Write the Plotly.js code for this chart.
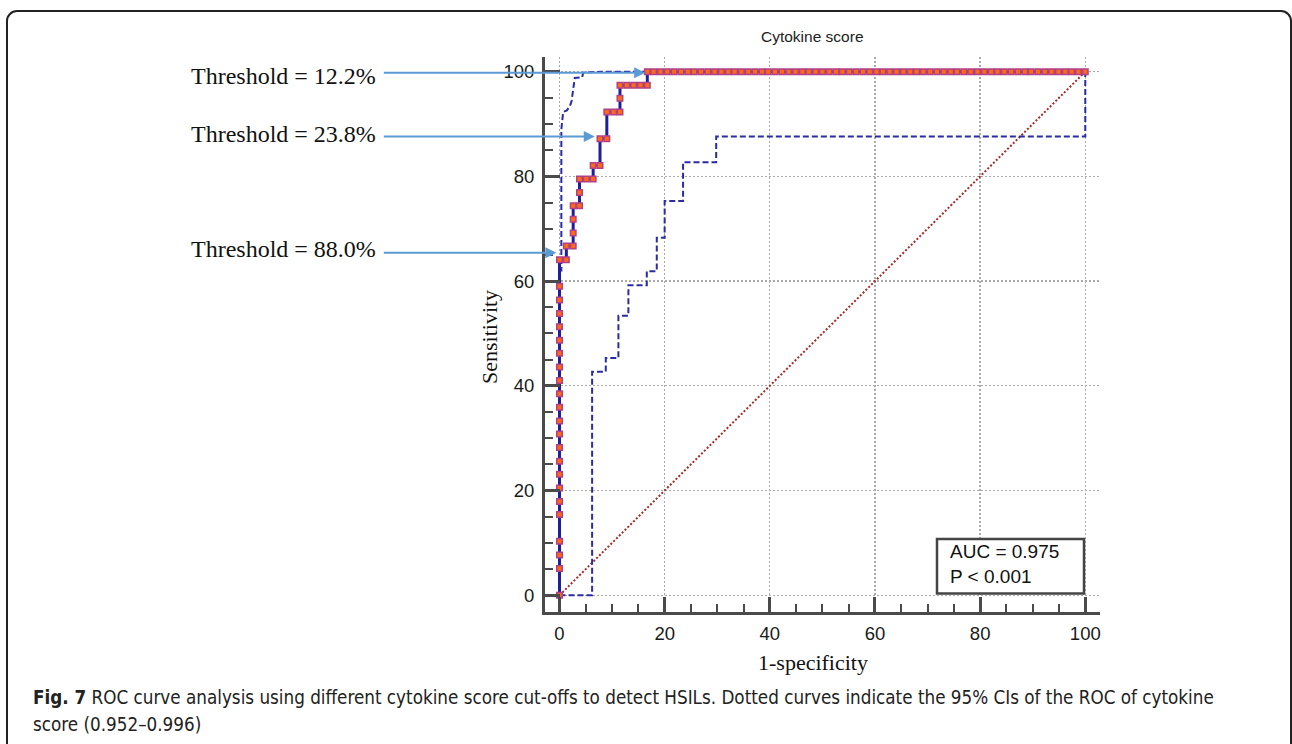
<!DOCTYPE html>
<html>
<head>
<meta charset="utf-8">
<script src="https://cdn.plot.ly/plotly-3.0.1.min.js"></script>
<style>
  html, body { margin: 0; padding: 0; background: #fff; overflow: hidden; }
  #chart { width: 1292px; height: 744px; position: absolute; left: 0; top: 0; }
  #frame { position: absolute; left: 6px; top: 10px; width: 1282px; height: 800px;
           border: 2px solid #222; border-radius: 11px; pointer-events: none; }
</style>
</head>
<body>
<div id="chart"></div>
<div id="frame"></div>
<script>
// ROC curve vertices (1-specificity %, sensitivity %)
const rocX = [0,0,0,0,0,0,0,0,0,0,0,0,0,0,0,0,0,0,0,0,0,0,0,
  1.3,1.3,2.6,2.6,2.6,2.6,3.8,3.8,3.8,5.1,6.4,6.4,7.7,7.7,9.0,9.0,10.3,11.5,11.5,11.5,12.8,14.1,15.4,16.7,16.7,
  17.9,19.2,20.5,21.8,23.1,24.4,25.6,26.9,28.2,29.5,30.8,32.1,33.3,34.6,35.9,37.2,38.5,39.7,41.0,42.3,43.6,44.9,
  46.2,47.4,48.7,50.0,51.3,52.6,53.8,55.1,56.4,57.7,59.0,60.3,61.5,62.8,64.1,65.4,66.7,67.9,69.2,70.5,71.8,73.1,
  74.4,75.6,76.9,78.2,79.5,80.8,82.1,83.3,84.6,85.9,87.2,88.5,89.7,91.0,92.3,93.6,94.9,96.2,97.4,98.7,100];
const rocY = [0,5.1,7.7,10.3,15.4,17.9,20.5,23.1,25.6,28.2,30.8,33.3,35.9,38.5,41.0,43.6,46.2,48.7,51.3,53.8,56.4,59.0,64.1,
  64.1,66.7,66.7,69.2,71.8,74.4,74.4,76.9,79.5,79.5,79.5,82.1,82.1,87.2,87.2,92.3,92.3,92.3,94.9,97.4,97.4,97.4,97.4,97.4,100,
  100,100,100,100,100,100,100,100,100,100,100,100,100,100,100,100,100,100,100,100,100,100,
  100,100,100,100,100,100,100,100,100,100,100,100,100,100,100,100,100,100,100,100,100,100,
  100,100,100,100,100,100,100,100,100,100,100,100,100,100,100,100,100,100,100,100,100];

// 95% CI bounds
const ciUpX = [0, 0, 0.35, 0.35, 0.7, 1.4, 2.0, 2.3, 2.6, 2.9, 4.3, 4.5, 8.0, 100];
const ciUpY = [0, 62, 62, 89.0, 92.3, 92.6, 93.5, 94.4, 96.6, 98.8, 98.9, 99.8, 100, 100];
const ciLoX = [0, 6.2, 6.2, 8.8, 8.8, 11.2, 11.2, 13.1, 13.1, 16.6, 16.6, 18.5, 18.5, 20.0, 20.0, 23.5, 23.5, 29.8, 29.8, 100, 100];
const ciLoY = [0, 0, 42.7, 42.7, 45.3, 45.3, 53.4, 53.4, 59.2, 59.2, 61.9, 61.9, 68.3, 68.3, 75.3, 75.3, 82.7, 82.7, 87.6, 87.6, 100];

// Reference diagonal
const diagX = [0, 100];
const diagY = [0, 100];

// Threshold annotations
const thrLabels = ["Threshold = 12.2%", "Threshold = 23.8%", "Threshold = 88.0%"];
const thrX = [16.3, 6.7, -0.6];
const thrY = [99.8, 87.6, 65.4];

const tickVals = [0, 20, 40, 60, 80, 100];
const titleText = "Cytokine score";
const xTitle = "1-specificity";
const yTitle = "Sensitivity";
const statLines = ["AUC = 0.975", "P < 0.001"];
const captionBold = "Fig. 7";
const captionLine1 = " ROC curve analysis using different cytokine score cut-offs to detect HSILs. Dotted curves indicate the 95% CIs of the ROC of cytokine";
const captionLine2 = "score (0.952–0.996)";

// plot area geometry (pixels)
const L = 545, T = 57, W = 555, H = 555;
const px = v => (v - L) / W;          // pixel x -> paper x
const py = v => (T + H - v) / H;      // pixel y -> paper y

const serif = "Liberation Serif, Times New Roman, serif";
const sans = "Liberation Sans, Arial, sans-serif";
const axisCommon = {
  tickvals: tickVals,
  ticks: "inside", ticklen: 15, tickwidth: 3, tickcolor: "#4a4a4a",
  showline: true, linecolor: "#4a4a4a", linewidth: 3,
  showgrid: true, gridcolor: "#aaa", griddash: "2px,2px", gridwidth: 1.3,
  zeroline: false,
  minor: { dtick: 5, tick0: 0, ticks: "inside", ticklen: 8, tickwidth: 2, tickcolor: "#4a4a4a", showgrid: false },
  tickfont: { family: sans, size: 18.5, color: "#1a1a1a" },
  fixedrange: true
};

const traces = [
  { x: diagX, y: diagY, mode: "lines", line: { color: "#a52a2a", width: 2, dash: "2px,2px" }, hoverinfo: "skip" },
  { x: ciUpX, y: ciUpY, mode: "lines", line: { color: "#2b2ba6", width: 2, dash: "6px,3px" }, hoverinfo: "skip" },
  { x: ciLoX, y: ciLoY, mode: "lines", line: { color: "#2b2ba6", width: 2, dash: "6px,3px" }, hoverinfo: "skip" },
  { x: rocX, y: rocY, mode: "lines+markers",
    line: { color: "#1f1f9c", width: 3 },
    marker: { symbol: "square", size: 5.5, color: "#ff6a10", line: { color: "#b0408a", width: 1.5 } },
    hoverinfo: "skip" }
];

const annotations = [];
thrLabels.forEach((t, i) => {
  annotations.push({ x: thrX[i], y: thrY[i], xref: "x", yref: "y", axref: "x", ayref: "y",
    ax: -33.7, ay: thrY[i], text: "", showarrow: true, arrowhead: 2, arrowsize: 1.1,
    arrowwidth: 2, arrowcolor: "#5b9bd5", standoff: 0, startstandoff: 0 });
});
const thrTextY = [75.5, 134, 249];
thrLabels.forEach((t, i) => {
  annotations.push({ x: px(378), y: py(thrTextY[i]), xref: "paper", yref: "paper",
    xanchor: "right", yanchor: "middle", text: t, showarrow: false,
    font: { family: serif, size: 24, color: "#111" } });
});
annotations.push({ x: px(812), y: py(37), xref: "paper", yref: "paper", xanchor: "center", yanchor: "middle",
  text: titleText, showarrow: false, font: { family: sans, size: 15.5, color: "#222" } });
annotations.push({ x: px(813), y: py(662), xref: "paper", yref: "paper", xanchor: "center", yanchor: "middle",
  text: xTitle, showarrow: false, font: { family: serif, size: 22, color: "#111" } });
annotations.push({ x: px(489), y: py(337), xref: "paper", yref: "paper", xanchor: "center", yanchor: "middle",
  text: yTitle, textangle: -90, showarrow: false, font: { family: serif, size: 22, color: "#111" } });
annotations.push({ x: px(948), y: py(551), xref: "paper", yref: "paper", xanchor: "left", yanchor: "middle",
  text: statLines[0], showarrow: false, font: { family: sans, size: 19, color: "#111" } });
annotations.push({ x: px(948), y: py(576), xref: "paper", yref: "paper", xanchor: "left", yanchor: "middle",
  text: statLines[1], showarrow: false, font: { family: sans, size: 19, color: "#111" } });
const capFont = { family: "DejaVu Sans Condensed, Noto Sans, sans-serif", size: 18.7, color: "#222" };
annotations.push({ x: px(31), y: py(697), xref: "paper", yref: "paper", xanchor: "left", yanchor: "middle",
  text: "<b>" + captionBold + "</b>" + captionLine1, showarrow: false, font: capFont });
annotations.push({ x: px(31), y: py(724), xref: "paper", yref: "paper", xanchor: "left", yanchor: "middle",
  text: captionLine2, showarrow: false, font: capFont });

const layout = {
  width: 1292, height: 744,
  margin: { l: L, r: 1292 - L - W, t: T, b: 744 - T - H, pad: 0 },
  paper_bgcolor: "#fff", plot_bgcolor: "#fff",
  showlegend: false,
  xaxis: Object.assign({}, axisCommon, { range: [-2.76, 102.8], ticklabelstandoff: 3 }),
  yaxis: Object.assign({}, axisCommon, { range: [-3.2, 102.8], ticklabelstandoff: 4 }),
  shapes: [
    { type: "rect", xref: "paper", yref: "paper", x0: px(937), x1: px(1084), y0: py(593.5), y1: py(539),
      line: { color: "#444", width: 2.5 }, fillcolor: "#fff", layer: "above" }
  ],
  annotations: annotations
};

Plotly.newPlot("chart", traces, layout, { displayModeBar: false, staticPlot: true });
</script>
</body>
</html>
